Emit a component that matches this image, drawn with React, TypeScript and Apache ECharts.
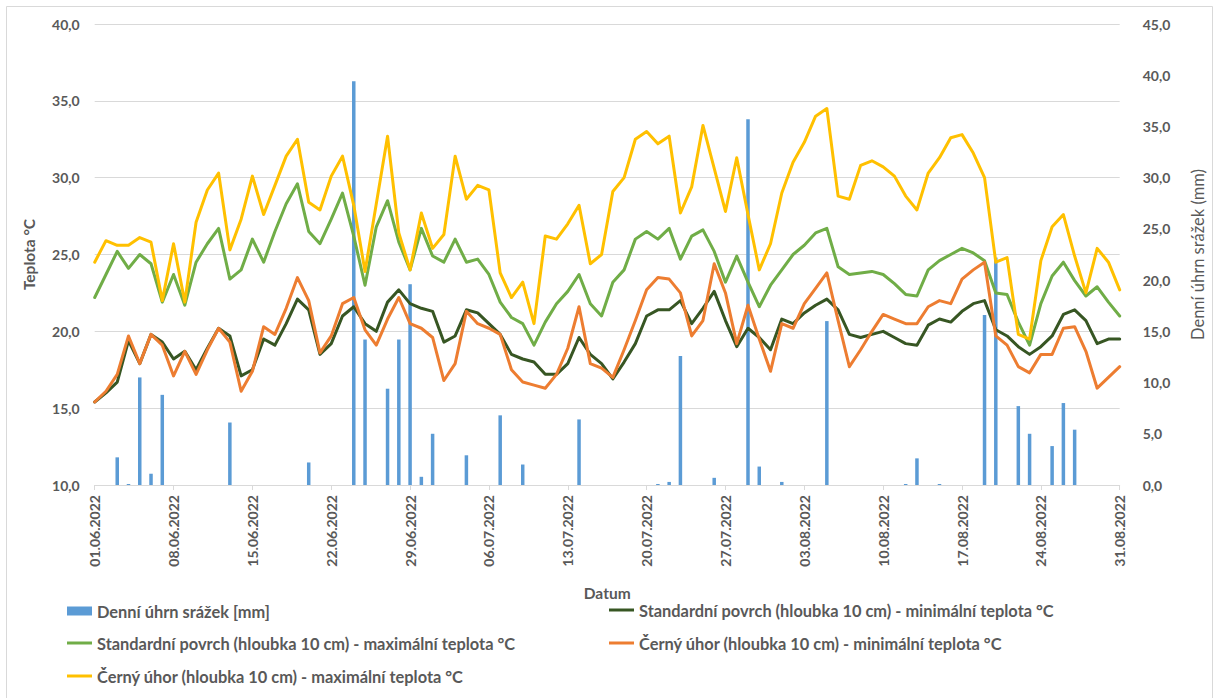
import React, { useEffect, useRef } from "react";
import * as echarts from "echarts";

// Categories: daily dates 01.06.2022 – 31.08.2022
const dates: string[] = (() => {
  const out: string[] = [];
  const months = [
    { m: 6, days: 30 },
    { m: 7, days: 31 },
    { m: 8, days: 31 },
  ];
  for (const { m, days } of months) {
    for (let d = 1; d <= days; d++) {
      out.push(`${String(d).padStart(2, "0")}.${String(m).padStart(2, "0")}.2022`);
    }
  }
  return out;
})();

// Denní úhrn srážek [mm]
const precipitation: number[] = [
  0, 0, 2.7, 0.1, 10.5, 1.1, 8.8, 0, 0, 0,
  0, 0, 6.1, 0, 0, 0, 0, 0, 0, 2.2,
  0, 0, 0, 39.4, 14.2, 0, 9.4, 14.2, 19.6, 0.8,
  5.0, 0, 0, 2.9, 0, 0, 6.8, 0, 2.0, 0,
  0, 0, 0, 6.4, 0, 0, 0, 0, 0, 0,
  0.1, 0.3, 12.6, 0, 0, 0.7, 0, 0, 35.7, 1.8,
  0, 0.3, 0, 0, 0, 16.0, 0, 0, 0, 0,
  0, 0, 0.1, 2.6, 0, 0.1, 0, 0, 0, 16.6,
  22.2, 0, 7.7, 5.0, 0, 3.8, 8.0, 5.4, 0, 0,
  0, 0,
];

// Standardní povrch (hloubka 10 cm) - minimální teplota °C
const stdMin: number[] = [
  15.4, 16.0, 16.7, 19.4, 17.9, 19.8, 19.3, 18.2, 18.7, 17.5,
  18.9, 20.2, 19.7, 17.1, 17.5, 19.5, 19.1, 20.5, 22.1, 21.4,
  18.5, 19.2, 21.0, 21.6, 20.5, 20.0, 21.9, 22.7, 21.8, 21.5,
  21.3, 19.3, 19.7, 21.4, 21.2, 20.5, 19.8, 18.5, 18.2, 18.0,
  17.2, 17.2, 17.9, 19.6, 18.5, 17.9, 16.9, 18.0, 19.2, 21.0,
  21.4, 21.4, 22.0, 20.5, 21.5, 22.6, 20.7, 19.0, 20.2, 19.6,
  18.8, 20.8, 20.5, 21.2, 21.7, 22.1, 21.4, 19.8, 19.6, 19.8,
  20.0, 19.6, 19.2, 19.1, 20.4, 20.8, 20.6, 21.3, 21.8, 22.0,
  20.1, 19.7, 19.0, 18.5, 19.0, 19.7, 21.1, 21.4, 20.7, 19.2,
  19.5, 19.5,
];

// Standardní povrch (hloubka 10 cm) - maximální teplota °C
const stdMax: number[] = [
  22.2, 23.7, 25.2, 24.1, 25.0, 24.4, 21.9, 23.7, 21.7, 24.5,
  25.7, 26.7, 23.4, 24.0, 26.0, 24.5, 26.5, 28.3, 29.6, 26.5,
  25.7, 27.3, 29.0, 26.2, 23.0, 26.8, 28.5, 25.8, 24.0, 26.7,
  24.9, 24.5, 26.0, 24.5, 24.7, 23.7, 21.9, 20.9, 20.5, 19.1,
  20.6, 21.8, 22.6, 23.7, 21.8, 21.0, 23.2, 24.0, 26.0, 26.5,
  26.0, 26.7, 24.7, 26.2, 26.6, 25.2, 23.2, 24.9, 23.2, 21.6,
  23.0, 24.0, 25.0, 25.6, 26.4, 26.7, 24.2, 23.7, 23.8, 23.9,
  23.7, 23.1, 22.4, 22.3, 24.0, 24.6, 25.0, 25.4, 25.1, 24.6,
  22.5, 22.4, 20.6, 19.1, 21.8, 23.6, 24.5, 23.3, 22.3, 22.9,
  21.9, 21.0,
];

// Černý úhor (hloubka 10 cm) - minimální teplota °C
const fallowMin: number[] = [
  15.4, 16.1, 17.2, 19.7, 17.9, 19.8, 19.1, 17.1, 18.7, 17.2,
  18.8, 20.2, 19.3, 16.1, 17.4, 20.3, 19.8, 21.5, 23.5, 22.0,
  18.6, 19.7, 21.8, 22.2, 20.1, 19.1, 20.8, 22.2, 20.5, 20.2,
  19.6, 16.8, 17.9, 21.3, 20.5, 20.2, 19.8, 17.5, 16.7, 16.5,
  16.3, 17.2, 18.9, 21.6, 17.9, 17.6, 17.0, 18.8, 20.7, 22.7,
  23.5, 23.4, 22.5, 19.7, 20.7, 24.4, 22.5, 19.2, 21.7, 19.5,
  17.4, 20.5, 20.2, 21.8, 22.8, 23.8, 20.7, 17.7, 18.8, 20.0,
  21.1, 20.8, 20.5, 20.5, 21.6, 22.0, 21.8, 23.4, 24.0, 24.5,
  19.7, 19.1, 17.7, 17.3, 18.5, 18.5, 20.2, 20.3, 18.7, 16.3,
  17.0, 17.7,
];

// Černý úhor (hloubka 10 cm) - maximální teplota °C
const fallowMax: number[] = [
  24.5, 25.9, 25.6, 25.6, 26.1, 25.8, 22.0, 25.7, 21.9, 27.1,
  29.2, 30.3, 25.3, 27.3, 30.1, 27.6, 29.5, 31.4, 32.5, 28.4,
  27.9, 30.1, 31.4, 28.2, 23.9, 28.3, 32.7, 26.4, 24.0, 27.7,
  25.4, 26.3, 31.4, 28.6, 29.5, 29.2, 23.8, 22.2, 23.2, 20.5,
  26.2, 26.0, 27.0, 28.2, 24.4, 25.0, 29.1, 30.0, 32.5, 33.0,
  32.2, 32.7, 27.7, 29.4, 33.4, 30.6, 27.8, 31.3, 27.6, 24.0,
  25.7, 29.0, 31.0, 32.3, 34.0, 34.5, 28.8, 28.6, 30.8, 31.1,
  30.7, 30.1, 28.8, 27.9, 30.3, 31.3, 32.6, 32.8, 31.6, 30.0,
  24.5, 24.8, 19.8, 19.5, 24.6, 26.8, 27.6, 24.9, 22.5, 25.4,
  24.5, 22.7,
];

const seriesNames = [
  "Denní úhrn srážek [mm]",
  "Standardní povrch (hloubka 10 cm) - minimální teplota °C",
  "Standardní povrch (hloubka 10 cm) - maximální teplota °C",
  "Černý úhor (hloubka 10 cm) - minimální teplota °C",
  "Černý úhor (hloubka 10 cm) - maximální teplota °C",
];

const FONT = "Lato";
const TEXT = "#595959";
const GRID = "#d9d9d9";

const fmt = (v: number) => v.toFixed(1).replace(".", ",");

export default function App() {
  const ref = useRef<HTMLDivElement>(null);

  useEffect(() => {
    if (!ref.current) return;
    const chart = echarts.init(ref.current, undefined, { renderer: "svg" });

    const legendText = {
      color: TEXT,
      fontFamily: FONT,
      fontWeight: "bold" as const,
      fontSize: 16.4,
      lineHeight: 18,
    };
    const mkLegend = (name: string, left: number, top: number, isBar: boolean) => ({
      show: true,
      data: [name],
      left,
      top,
      padding: 0,
      icon: "rect",
      itemWidth: 25,
      itemHeight: isBar ? 9 : 3,
      selectedMode: false,
      textStyle: legendText,
    });

    const lineSeries = (name: string, data: number[], color: string) => ({
      name,
      type: "line" as const,
      data,
      yAxisIndex: 0,
      symbol: "none",
      showSymbol: false,
      smooth: false,
      lineStyle: { color, width: 3, cap: "round", join: "round" },
      itemStyle: { color },
      z: 3,
    });

    chart.setOption({
      animation: false,
      backgroundColor: "#ffffff",
      textStyle: { fontFamily: FONT },
      grid: {
        left: 94.7,
        right: 98.3,
        top: 24,
        bottom: 213,
        containLabel: false,
        outerBoundsMode: "none",
      },
      legend: [
        mkLegend(seriesNames[0], 67, 602, true),
        mkLegend(seriesNames[1], 609, 601, false),
        mkLegend(seriesNames[2], 67, 634, false),
        mkLegend(seriesNames[3], 609, 634, false),
        mkLegend(seriesNames[4], 67, 667, false),
      ],
      xAxis: {
        type: "category",
        data: dates,
        boundaryGap: false,
        name: "Datum",
        nameLocation: "middle",
        nameGap: 100,
        nameTextStyle: {
          color: TEXT,
          fontFamily: FONT,
          fontWeight: "bold",
          fontSize: 15.5,
        },
        axisLine: { show: true, lineStyle: { color: GRID, width: 1 } },
        axisTick: {
          show: true,
          interval: 6,
          length: 5,
          lineStyle: { color: GRID },
          alignWithLabel: true,
        },
        axisLabel: {
          interval: 6,
          rotate: 90,
          margin: 10,
          color: TEXT,
          fontFamily: FONT,
          fontWeight: "bold",
          fontSize: 14,
        },
        splitLine: { show: false },
      },
      yAxis: [
        {
          type: "value",
          min: 10,
          max: 40,
          interval: 5,
          name: "Teplota °C",
          nameLocation: "middle",
          nameGap: 58,
          nameRotate: 90,
          nameTextStyle: {
            color: TEXT,
            fontFamily: FONT,
            fontWeight: "bold",
            fontSize: 15.5,
          },
          axisLine: { show: false },
          axisTick: { show: false },
          axisLabel: {
            formatter: fmt,
            margin: 15,
            color: TEXT,
            fontFamily: FONT,
            fontWeight: "bold",
            fontSize: 14,
          },
          splitLine: { show: true, lineStyle: { color: GRID, width: 1 } },
        },
        {
          type: "value",
          min: 0,
          max: 45,
          interval: 5,
          position: "right",
          name: "Denní úhrn srážek (mm)",
          nameLocation: "middle",
          nameGap: 70,
          nameRotate: 90,
          nameTextStyle: {
            color: TEXT,
            fontFamily: FONT,
            fontWeight: "normal",
            fontSize: 16.5,
          },
          axisLine: { show: false },
          axisTick: { show: false },
          axisLabel: {
            formatter: fmt,
            margin: 23,
            color: TEXT,
            fontFamily: FONT,
            fontWeight: "bold",
            fontSize: 14,
          },
          splitLine: { show: false },
        },
      ],
      graphic: [
        {
          type: "rect",
          shape: { x: 6.5, y: 6.5, width: 1206, height: 700 },
          style: { fill: "none", stroke: GRID, lineWidth: 1 },
          silent: true,
          z: -1,
        },
      ],
      series: [
        {
          name: seriesNames[0],
          type: "bar",
          data: precipitation,
          yAxisIndex: 1,
          barWidth: 3.5,
          itemStyle: { color: "#5b9bd5" },
          z: 2,
        },
        lineSeries(seriesNames[1], stdMin, "#375623"),
        lineSeries(seriesNames[2], stdMax, "#70ad47"),
        lineSeries(seriesNames[3], fallowMin, "#ed7d31"),
        lineSeries(seriesNames[4], fallowMax, "#ffc000"),
      ],
    });

    return () => {
      chart.dispose();
    };
  }, []);

  return (
    <div
      ref={ref}
      style={{ position: "absolute", left: 0, top: 0, width: 1218, height: 698 }}
    />
  );
}
